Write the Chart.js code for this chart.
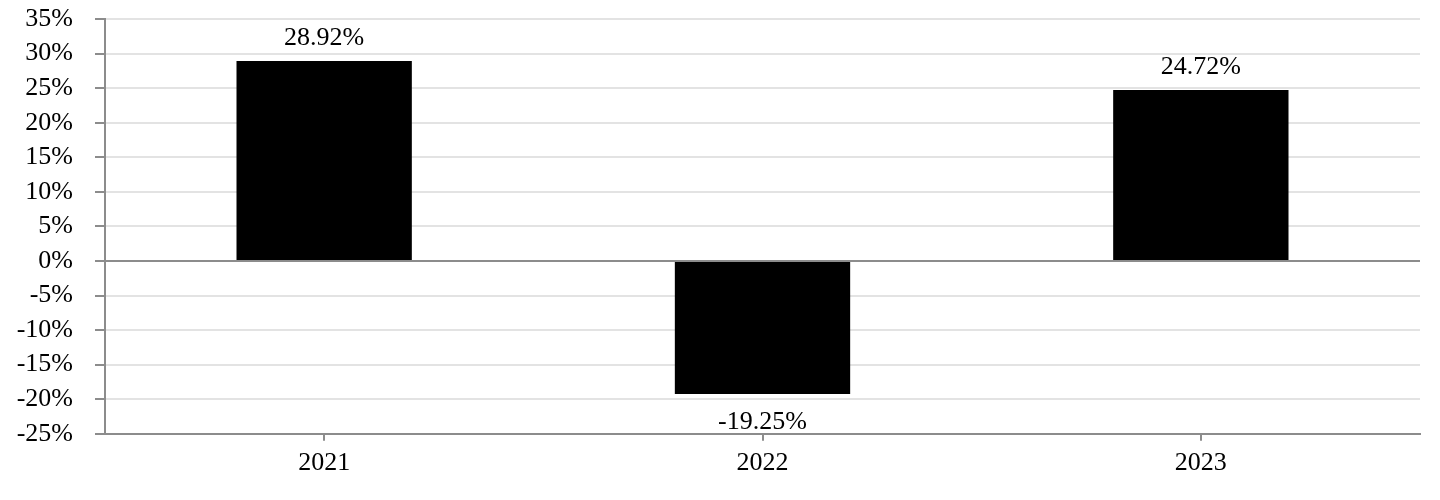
<!DOCTYPE html>
<html>
<head>
<meta charset="utf-8">
<script src="https://cdn.jsdelivr.net/npm/chart.js@4.4.1/dist/chart.umd.min.js"></script>
<style>
  html, body { margin: 0; padding: 0; background: #fff; }
  #wrap { width: 1440px; height: 500px; }
</style>
</head>
<body>
<div id="wrap"><canvas id="returnsChart"></canvas></div>
<script>
const years = ['2021', '2022', '2023'];
const returns = [28.92, -19.25, 24.72];
const yMin = -25;
const yMax = 35;
const yStep = 5;

const ctx = document.getElementById('returnsChart');
const axisGray = '#8c8c8c';
const gridGray = '#e3e3e3';
const fontFamily = '"Liberation Serif", "Times New Roman", serif';
const fontSize = 26;

// value labels above / below each bar
const barLabels = {
  id: 'barLabels',
  afterDatasetsDraw(chart) {
    const c = chart.ctx;
    const meta = chart.getDatasetMeta(0);
    c.save();
    c.font = fontSize + 'px ' + fontFamily;
    c.fillStyle = '#000';
    c.textAlign = 'center';
    c.textBaseline = 'alphabetic';
    meta.data.forEach((bar, i) => {
      const v = returns[i];
      const text = v.toFixed(2) + '%';
      const y = v >= 0 ? bar.y - 16 : bar.y + 35;
      c.fillText(text, bar.x, y);
    });
    c.restore();
  }
};

new Chart(ctx, {
  type: 'bar',
  data: {
    labels: years,
    datasets: [{
      data: returns,
      backgroundColor: '#000',
      borderWidth: 0,
      barPercentage: 0.4,
      categoryPercentage: 1
    }]
  },
  options: {
    responsive: true,
    maintainAspectRatio: false,
    animation: false,
    layout: { padding: { left: 0, right: 20, top: 19, bottom: 14 } },
    plugins: {
      legend: { display: false },
      tooltip: { enabled: false }
    },
    scales: {
      x: {
        grid: {
          drawOnChartArea: false,
          offset: false,
          tickLength: 7,
          tickColor: axisGray,
          lineWidth: 2
        },
        border: { display: true, color: axisGray, width: 2 },
        ticks: {
          color: '#000',
          padding: 7,
          font: { family: fontFamily, size: fontSize }
        }
      },
      y: {
        min: yMin,
        max: yMax,
        afterFit: s => { s.width = 105; s.paddingTop = 0; s.paddingBottom = 0; },
        grid: {
          color: c => c.tick && c.tick.value === 0 ? axisGray : gridGray,
          lineWidth: 2,
          tickLength: 10,
          tickColor: axisGray
        },
        border: { display: true, color: axisGray, width: 2 },
        ticks: {
          stepSize: yStep,
          autoSkip: false,
          color: '#000',
          padding: 22,
          font: { family: fontFamily, size: fontSize },
          callback: v => v + '%'
        }
      }
    }
  },
  plugins: [barLabels]
});
</script>
</body>
</html>
